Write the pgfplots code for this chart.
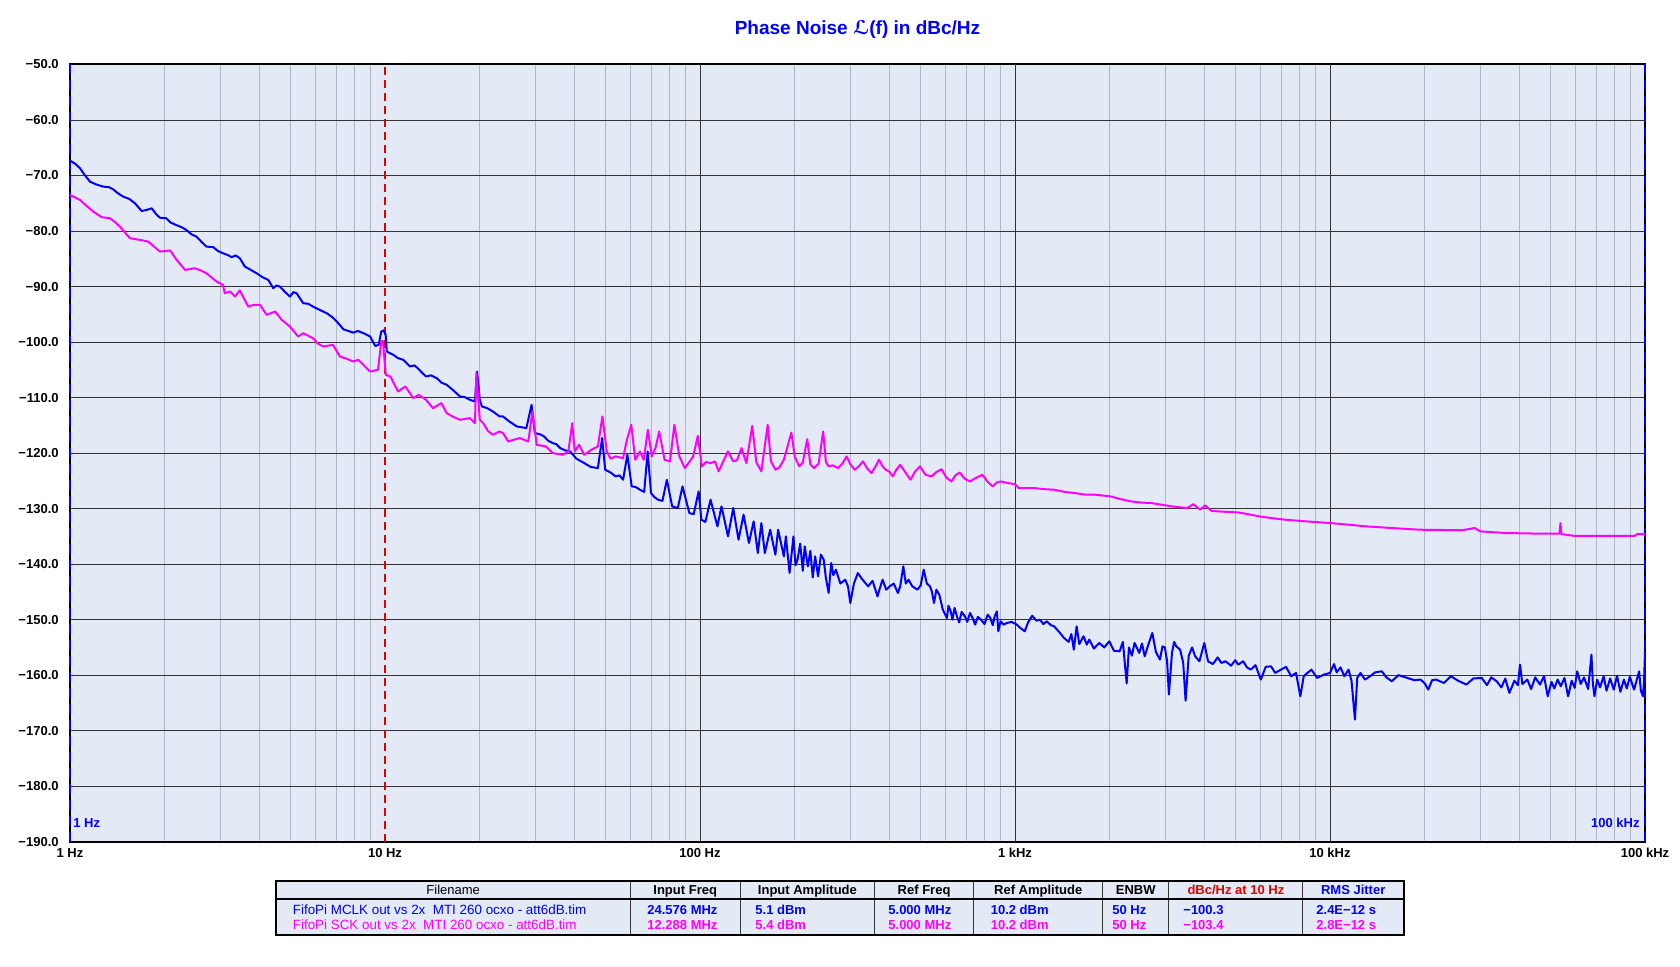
\documentclass[border=0pt]{standalone}
\usepackage{fontspec}
\setmainfont{Liberation Sans}
\newfontfamily\djv{DejaVu Sans}
\usepackage{pgfplots}
\pgfplotsset{compat=1.18}
\definecolor{bgc}{HTML}{E3E9F5}
\definecolor{mingrid}{HTML}{AFB8C5}
\definecolor{majgrid}{HTML}{333333}
\definecolor{pblue}{HTML}{0000FF}
\definecolor{pmag}{HTML}{FF00FF}
\definecolor{pred}{HTML}{E00000}
\newcommand\fs[1]{\fontsize{#1}{#1}\selectfont}
\begin{document}
\begin{tikzpicture}
\path[use as bounding box] (0,0) rectangle (840pt,-483.5pt);
\node[anchor=base, font=\fs{9.5pt}\bfseries, text=pblue, inner sep=0pt] at (428.75pt,-17.5pt) {Phase Noise {\djv\bfseries ℒ}(f) in dBc/Hz};
\begin{axis}[
 at={(35pt,-420.85pt)}, anchor=south west,
 scale only axis, width=787.5pt, height=388.6pt,
 xmode=log, xmin=1, xmax=100000, ymin=-190, ymax=-50,
 xtick={1,10,100,1000,10000,100000},
 xticklabels={1 Hz,10 Hz,100 Hz,1 kHz,10 kHz,100 kHz},
 minor xtick={2,3,4,5,6,7,8,9,20,30,40,50,60,70,80,90,200,300,400,500,600,700,800,900,2000,3000,4000,5000,6000,7000,8000,9000,20000,30000,40000,50000,60000,70000,80000,90000},
 ytick={-190,-180,-170,-160,-150,-140,-130,-120,-110,-100,-90,-80,-70,-60,-50},
 yticklabels={−190.0,−180.0,−170.0,−160.0,−150.0,−140.0,−130.0,−120.0,−110.0,−100.0,−90.0,−80.0,−70.0,−60.0,−50.0},
 major tick length=0pt, minor tick length=0pt,
 xminorgrids=true, ymajorgrids=true, xmajorgrids=false,
 minor grid style={mingrid, line width=0.5pt},
 major grid style={majgrid, line width=0.5pt},
 extra x ticks={100,1000,10000},
 extra x tick labels={},
 extra x tick style={grid=major, major grid style={majgrid, line width=0.5pt}},
 axis background/.style={fill=bgc},
 axis line style={black, line width=1pt},
 clip=false,
 xticklabel style={font=\fs{6.5pt}\bfseries, inner sep=0pt, anchor=north, yshift=-3pt},
 yticklabel style={font=\fs{6.5pt}\bfseries, inner sep=0pt, anchor=east, xshift=-5.5pt},
]
\addplot[pred, line width=0.6pt, dash pattern=on 4pt off 2.5pt] coordinates {(10,-190) (10,-50)};
\addplot[pblue, line width=1.1pt, dash pattern=on 5pt off 3pt] coordinates {(1,-190) (1,-50)};
\addplot[pblue, line width=1.1pt, dash pattern=on 5pt off 3pt] coordinates {(100000,-190) (100000,-50)};
% MCLK (blue)
\addplot[pblue, line width=1pt, line join=round] coordinates {
(1.0,-67.3)(1.04,-67.9)(1.076,-68.7)(1.11,-69.8)(1.157,-71.1)(1.21,-71.6)(1.276,-72.0)(1.33,-72.1)(1.372,-72.5)(1.42,-73.2)(1.475,-73.8)(1.54,-74.2)(1.608,-75.0)(1.689,-76.4)(1.75,-76.2)(1.817,-75.9)(1.88,-77.0)(1.93,-77.6)(2.02,-77.7)(2.09,-78.5)(2.17,-78.9)(2.26,-79.3)(2.34,-79.8)(2.43,-80.6)(2.52,-81.0)(2.62,-82.0)(2.71,-82.8)(2.85,-82.9)(2.95,-83.6)(3.06,-84.0)(3.16,-84.3)(3.26,-84.7)(3.36,-84.4)(3.46,-84.9)(3.59,-86.4)(3.75,-87.0)(3.91,-87.6)(4.08,-88.3)(4.26,-88.8)(4.42,-90.3)(4.52,-89.8)(4.64,-90.0)(4.82,-91.0)(4.99,-91.8)(5.12,-91.0)(5.24,-91.2)(5.50,-93.0)(5.7,-93.1)(5.91,-93.6)(6.2,-94.2)(6.53,-94.8)(6.8,-95.5)(7.03,-96.3)(7.38,-97.7)(7.65,-98.0)(7.93,-98.3)(8.2,-98.0)(8.54,-98.4)(8.97,-99.0)(9.31,-100.7)(9.55,-100.5)(9.73,-98.1)(9.9,-97.9)(10.05,-98.7)(10.13,-101.7)(10.63,-102.3)(11.0,-102.9)(11.44,-103.2)(12.0,-104.4)(12.4,-104.2)(12.7,-104.7)(13.1,-105.5)(13.5,-106.2)(14.0,-106.0)(14.6,-106.5)(15.1,-107.3)(15.7,-107.7)(16.4,-108.6)(17.3,-109.8)(17.9,-109.9)(18.6,-110.4)(19.3,-110.7)(19.6,-105.3)(20.0,-110.4)(20.3,-111.6)(21.1,-111.9)(22.0,-112.5)(23.1,-113.4)(23.7,-113.4)(24.8,-114.3)(26.2,-115.2)(28.1,-115.5)(29.2,-111.3)(29.9,-116.4)(31.0,-116.6)(32.0,-117.0)(33.0,-117.8)(34.1,-118.2)(35.0,-118.4)(36.0,-119.1)(37.3,-119.5)(38.7,-119.7)(40.5,-121.0)(42.9,-121.8)(45.0,-122.5)(47.4,-122.7)(48.9,-117.3)(50.0,-123.0)(52.0,-123.5)(54.0,-124.2)(55.5,-124.0)(57.0,-124.8)(58.8,-120.3)(60.7,-126.0)(62.5,-126.1)(64.5,-126.6)(66.5,-127.0)(68.2,-119.7)(69.9,-127.2)(71.6,-127.9)(73.6,-128.4)(76,-128.6)(78.5,-124.8)(81.6,-129.6)(85,-129.9)(88.0,-126.0)(92.5,-130.8)(95.5,-131.0)(99.0,-126.9)(101.0,-132.0)(104,-132.4)(108,-128.4)(113.6,-133.2)(117,-129.6)(122.7,-135.0)(127.5,-129.9)(132.5,-135.6)(137.5,-131.1)(143,-136.2)(148,-132.3)(152.6,-138.0)(156.6,-132.6)(160.6,-138.0)(167,-133.8)(173.5,-138.3)(177,-133.8)(184.6,-138.6)(187.3,-135.0)(192.5,-141.6)(198,-135.0)(201,-140.2)(204,-139.2)(208,-136.3)(212,-141.2)(215,-136.8)(220,-140.4)(224,-137.6)(228,-142.4)(232,-138.6)(237,-142.2)(242,-138.3)(247,-139.2)(251,-142.5)(256,-145.2)(261,-139.8)(265,-142.0)(270,-141.0)(279,-143.5)(289,-142.8)(295,-144.0)(300,-147.0)(308,-143.5)(317,-141.6)(328,-142.8)(342,-144.0)(353,-143.0)(366,-145.8)(373,-144.2)(380,-142.8)(390,-144.6)(400,-144.0)(412,-143.5)(425,-145.2)(432,-144.0)(442,-140.4)(450,-143.5)(459,-142.8)(472,-144.0)(490,-144.6)(502,-143.8)(513,-141.0)(525,-143.5)(537,-144.0)(545,-145.0)(553,-147.0)(563,-144.6)(575,-145.5)(590,-148.2)(608,-149.7)(615,-147.5)(625,-148.5)(633,-150.0)(643,-147.9)(655,-149.5)(665,-150.5)(677,-148.6)(693,-149.4)(705,-150.4)(720,-148.8)(735,-149.8)(747,-150.9)(762,-149.5)(780,-150.0)(800,-150.8)(819,-149.1)(835,-149.7)(850,-151.0)(862,-149.4)(876,-148.5)(885,-152.1)(900,-150.3)(920,-150.9)(943,-150.6)(975,-150.4)(1013,-150.9)(1040,-151.5)(1074,-152.1)(1100,-150.5)(1134,-149.3)(1170,-150.2)(1200,-150.0)(1230,-150.8)(1260,-150.3)(1300,-151.0)(1331,-151.2)(1380,-152.2)(1431,-153.3)(1480,-154.0)(1510,-152.6)(1537,-155.4)(1569,-151.2)(1600,-154.4)(1650,-153.0)(1690,-154.5)(1721,-153.6)(1780,-155.2)(1851,-154.2)(1920,-155.0)(1993,-153.9)(2060,-155.6)(2148,-155.7)(2200,-154.0)(2262,-161.5)(2300,-155.0)(2350,-156.5)(2396,-154.2)(2480,-156.0)(2530,-154.3)(2580,-156.6)(2650,-154.5)(2728,-152.4)(2800,-155.8)(2883,-157.2)(2940,-154.8)(2990,-155.0)(3040,-157.5)(3080,-163.5)(3150,-156.0)(3200,-154.0)(3250,-154.8)(3343,-155.4)(3420,-157.8)(3480,-164.6)(3560,-156.5)(3650,-155.0)(3731,-156.6)(3850,-157.5)(3990,-154.2)(4100,-157.5)(4248,-158.0)(4400,-156.8)(4520,-157.8)(4661,-157.5)(4850,-158.3)(5000,-157.3)(5110,-158.1)(5300,-157.5)(5450,-158.6)(5606,-159.0)(5800,-158.2)(6029,-160.8)(6250,-158.5)(6498,-158.4)(6700,-159.6)(6990,-159.0)(7250,-158.5)(7530,-160.2)(7800,-159.6)(8050,-163.8)(8250,-160.2)(8400,-159.8)(8730,-159.0)(9100,-160.5)(9560,-159.9)(10000,-159.6)(10300,-158.0)(10500,-159.5)(10800,-158.6)(11100,-160.2)(11450,-159.0)(11700,-161.0)(12000,-168.0)(12200,-160.5)(12500,-159.6)(12900,-160.8)(13400,-160.2)(13900,-159.5)(14600,-159.3)(15100,-160.4)(15700,-161.1)(16500,-160.0)(17600,-160.5)(18500,-160.9)(19400,-160.8)(20000,-161.5)(20500,-162.6)(21100,-160.9)(21700,-160.8)(23000,-161.4)(24200,-160.2)(25500,-161.0)(27100,-161.7)(28500,-160.6)(30300,-160.5)(31500,-161.8)(32500,-160.4)(33800,-161.1)(35000,-162.2)(36000,-160.6)(37100,-163.2)(38500,-161.0)(39500,-161.8)(40100,-158.1)(40800,-161.6)(42300,-160.8)(43500,-162.5)(44800,-160.4)(46400,-161.7)(47800,-160.2)(49100,-163.8)(50500,-161.2)(51500,-162.4)(52800,-160.8)(54000,-162.0)(55500,-160.5)(57000,-163.8)(58500,-161.0)(59800,-162.3)(60900,-159.3)(62500,-161.6)(64000,-160.4)(66000,-162.5)(67600,-156.3)(68300,-161.5)(69100,-163.8)(70500,-160.8)(72000,-162.2)(73900,-160.2)(75500,-162.8)(77500,-160.6)(79600,-162.6)(81500,-160.1)(83500,-163.0)(85700,-160.8)(87500,-162.4)(89500,-160.3)(92300,-162.6)(94000,-161.0)(95800,-159.3)(97000,-162.8)(98500,-163.8)(99300,-161.0)(100000,-155.7)
};
% SCK (magenta)
\addplot[pmag, line width=1pt, line join=round] coordinates {
(1.0,-73.5)(1.076,-74.4)(1.13,-75.5)(1.186,-76.5)(1.26,-77.5)(1.34,-77.7)(1.39,-78.4)(1.44,-79.2)(1.55,-81.3)(1.67,-81.6)(1.77,-81.9)(1.85,-82.8)(1.93,-83.7)(2.08,-83.5)(2.18,-85.2)(2.32,-87.0)(2.49,-86.7)(2.6,-87.1)(2.71,-87.6)(2.82,-88.4)(2.92,-89.1)(3.06,-89.7)(3.10,-91.2)(3.22,-90.9)(3.34,-91.8)(3.46,-90.7)(3.57,-92.2)(3.68,-93.6)(3.82,-93.3)(4.01,-93.3)(4.21,-95.1)(4.48,-94.5)(4.70,-96.0)(4.99,-97.2)(5.30,-99.0)(5.50,-98.4)(5.91,-99.3)(6.1,-100.2)(6.36,-100.8)(6.84,-100.5)(7.19,-102.6)(7.55,-103.0)(7.93,-103.5)(8.23,-103.2)(8.6,-104.3)(8.97,-105.3)(9.5,-105.0)(9.73,-99.9)(9.85,-99.8)(10.06,-105.9)(10.4,-106.2)(11.0,-108.9)(11.6,-108.0)(12.3,-110.1)(12.8,-109.5)(13.5,-110.4)(14.2,-111.9)(15.1,-111.0)(15.7,-112.8)(16.5,-113.5)(17.3,-114.0)(18.6,-113.7)(19.3,-114.6)(19.5,-105.6)(20.0,-114.0)(20.5,-114.6)(21.2,-116.0)(22.0,-116.7)(23.1,-116.1)(23.7,-116.4)(24.6,-117.9)(25.6,-117.6)(26.8,-117.3)(28.5,-117.9)(29.4,-112.5)(30.3,-118.5)(32.4,-118.8)(34.1,-120.0)(36.7,-120.3)(38.2,-119.7)(39.3,-114.6)(40.0,-119.7)(41.3,-118.5)(42.9,-120.3)(45.2,-119.4)(47.4,-118.8)(49.0,-113.4)(50.6,-119.7)(52.0,-121.0)(54.0,-120.6)(57.0,-120.9)(58.6,-117.6)(60.5,-114.9)(62.3,-121.2)(64.5,-119.7)(66.3,-121.2)(68.3,-115.8)(70.3,-120.6)(72.3,-119.0)(74.2,-116.1)(77.2,-121.2)(80.3,-121.5)(82.9,-114.9)(86.0,-120.6)(89.5,-122.7)(92.5,-121.6)(95.1,-120.6)(98.4,-116.9)(101.4,-122.4)(104.5,-121.6)(108,-121.8)(111.6,-121.5)(114.6,-123.3)(118.5,-121.5)(122.7,-119.7)(127.5,-121.5)(131,-121.3)(135.4,-119.1)(140.3,-121.8)(146.5,-115.1)(151,-121.7)(156.6,-123.3)(164,-114.9)(168,-121.5)(173.5,-123.0)(178.5,-122.6)(184.6,-121.2)(195,-116.3)(200,-120.7)(206.5,-122.4)(212,-121.7)(219,-117.5)(224,-122.0)(230,-122.7)(238,-121.9)(246,-116.1)(251,-121.6)(256,-122.4)(264,-122.2)(274,-122.7)(283,-121.9)(292,-120.6)(300,-122.0)(310,-123.0)(320,-122.3)(329,-121.5)(340,-122.8)(350,-123.6)(360,-122.5)(370,-121.2)(380,-122.4)(389,-123.0)(400,-123.4)(409,-124.2)(420,-123.0)(432,-122.1)(448,-123.4)(466,-124.8)(482,-123.3)(499,-122.4)(520,-123.9)(543,-124.2)(563,-123.4)(585,-122.9)(605,-124.4)(628,-125.1)(647,-124.0)(667,-123.5)(692,-124.6)(719,-125.1)(755,-124.4)(788,-123.9)(820,-125.2)(850,-126.0)(875,-125.3)(901,-125.1)(950,-125.4)(1000,-125.6)(1027,-126.3)(1150,-126.3)(1240,-126.5)(1334,-126.6)(1440,-127.0)(1549,-127.2)(1680,-127.5)(1798,-127.5)(2010,-127.8)(2170,-128.3)(2335,-128.7)(2500,-128.9)(2711,-129.0)(2920,-129.3)(3150,-129.6)(3520,-129.9)(3684,-129.2)(3870,-130.2)(4018,-129.4)(4200,-130.4)(4413,-130.5)(5125,-130.7)(5500,-131.0)(5963,-131.4)(6500,-131.7)(7210,-132.0)(8400,-132.3)(10000,-132.6)(11500,-132.9)(13000,-133.2)(15700,-133.5)(19300,-133.8)(26200,-133.9)(28800,-133.5)(30000,-134.1)(36200,-134.4)(45600,-134.5)(53500,-134.5)(53900,-132.6)(54300,-134.6)(59400,-134.9)(74900,-134.9)(92600,-134.9)(94400,-134.6)(100000,-134.6)
};
\end{axis}
\node[anchor=base west, font=\fs{6.5pt}\bfseries, text=pblue, inner sep=0pt] at (36.5pt,-413.5pt) {1 Hz};
\node[anchor=base east, font=\fs{6.5pt}\bfseries, text=pblue, inner sep=0pt] at (820pt,-413.5pt) {100 kHz};
% table
\fill[bgc] (138.2pt,-440.35pt) rectangle (701.8pt,-467.65pt);
\foreach \xx in {315,370.2,437.15,486.95,551.25,584.45,651.45}{
  \draw[black!80, line width=0.5pt] (\xx pt,-440.35pt) -- (\xx pt,-467.65pt);
}
\draw[black, line width=0.75pt] (138.2pt,-449.5pt) -- (701.8pt,-449.5pt);
\draw[black, line width=1pt] (138.2pt,-440.35pt) rectangle (701.8pt,-467.65pt);
\begin{scope}[every node/.style={inner sep=0pt, font=\fs{6.5pt}\bfseries}]
\node[anchor=base, font=\fs{6.5pt}] at (226.6pt,-447pt) {Filename};
\node[anchor=base] at (342.6pt,-447pt) {Input Freq};
\node[anchor=base] at (403.7pt,-447pt) {Input Amplitude};
\node[anchor=base] at (462.05pt,-447pt) {Ref Freq};
\node[anchor=base] at (519.1pt,-447pt) {Ref Amplitude};
\node[anchor=base] at (567.85pt,-447pt) {ENBW};
\node[anchor=base, text=pred] at (617.95pt,-447pt) {dBc/Hz at 10 Hz};
\node[anchor=base, text=pblue] at (676.6pt,-447pt) {RMS Jitter};
\begin{scope}[every node/.append style={text=pblue, anchor=base west}]
\node[font=\fs{6.7pt}] at (146.25pt,-457.15pt) {FifoPi MCLK out vs 2x\ \ MTI 260 ocxo - att6dB.tim};
\node at (323.5pt,-457.15pt) {24.576 MHz};
\node at (377.5pt,-457.15pt) {5.1 dBm};
\node at (444pt,-457.15pt) {5.000 MHz};
\node at (495.2pt,-457.15pt) {10.2 dBm};
\node at (556pt,-457.15pt) {50 Hz};
\node at (591.5pt,-457.15pt) {−100.3};
\node at (658pt,-457.15pt) {2.4E−12 s};
\end{scope}
\begin{scope}[every node/.append style={text=pmag, anchor=base west}]
\node[font=\fs{6.7pt}] at (146.25pt,-464.65pt) {FifoPi SCK out vs 2x\ \ MTI 260 ocxo - att6dB.tim};
\node at (323.5pt,-464.65pt) {12.288 MHz};
\node at (377.5pt,-464.65pt) {5.4 dBm};
\node at (444pt,-464.65pt) {5.000 MHz};
\node at (495.2pt,-464.65pt) {10.2 dBm};
\node at (556pt,-464.65pt) {50 Hz};
\node at (591.5pt,-464.65pt) {−103.4};
\node at (658pt,-464.65pt) {2.8E−12 s};
\end{scope}
\end{scope}
\end{tikzpicture}
\end{document}
